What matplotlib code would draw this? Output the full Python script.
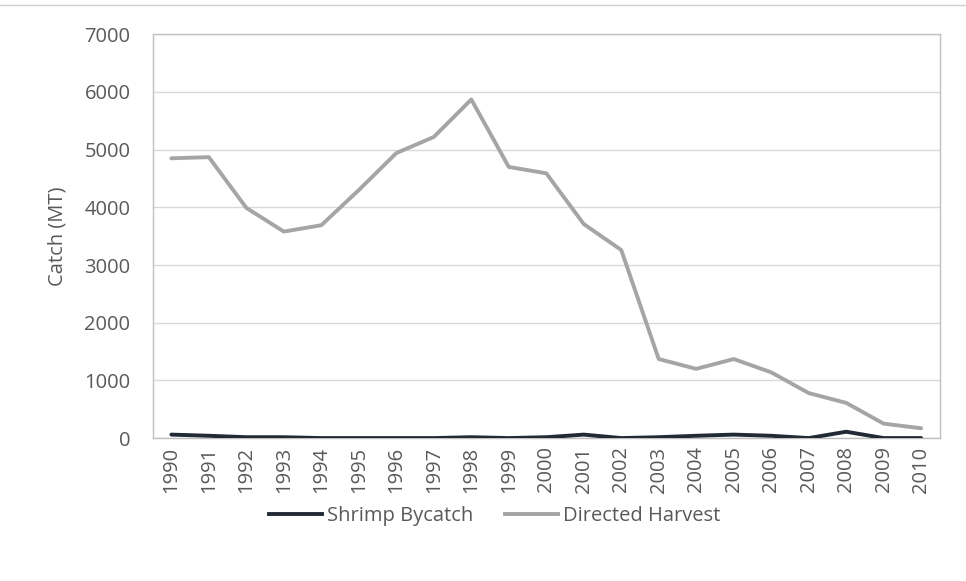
import numpy as np
import matplotlib
matplotlib.use("Agg")
import matplotlib.pyplot as plt
from matplotlib.lines import Line2D

plt.rcParams['font.family'] = ['Open Sans', 'DejaVu Sans']

#DATA
years = list(range(1990, 2011))
shrimp_bycatch = [60, 40, 15, 15, 0, 0, 0, 0, 15, 0, 15, 60, 0, 15, 40, 60, 40, 0, 110, 0, 0]
directed_harvest = [4850, 4870, 3990, 3580, 3690, 4300, 4940, 5220, 5870, 4700, 4590,
                    3710, 3260, 1370, 1200, 1370, 1140, 780, 610, 250, 170]

dark = '#222a35'
grey = '#a5a5a5'
txt = '#595959'

#PLOT
fig = plt.figure(figsize=(9.66, 5.81), dpi=100)
ax = fig.add_axes([0.158, 0.246, 0.815, 0.695])

ax.plot(years, shrimp_bycatch, color=dark, lw=2.8, solid_capstyle='round', zorder=3)
ax.plot(years, directed_harvest, color=grey, lw=2.8, solid_capstyle='round', zorder=2)

ax.set_xlim(1989.5, 2010.5)
ax.set_ylim(0, 7000)
ax.set_yticks(np.arange(0, 7001, 1000))
ax.set_xticks(years)
ax.set_xticklabels([str(y) for y in years], rotation=90)
ax.grid(axis='y', color='#d9d9d9', lw=1)
ax.set_axisbelow(True)
for s in ax.spines.values():
    s.set_color('#bfbfbf')
    s.set_linewidth(1)
ax.tick_params(length=0, colors=txt, labelsize=14.5)
ax.tick_params(axis='y', pad=16)
ax.tick_params(axis='x', pad=6)
ax.set_ylabel('Catch (MT)', color=txt, fontsize=14.5, labelpad=12)

ax.legend(handles=[Line2D([], [], color=dark, lw=2.8), Line2D([], [], color=grey, lw=2.8)],
          labels=['Shrimp Bycatch', 'Directed Harvest'],
          loc='center', bbox_to_anchor=(0.512, 0.112), bbox_transform=fig.transFigure,
          ncol=2, frameon=False, fontsize=14.5, labelcolor=txt,
          handlelength=2.6, handletextpad=0.25, columnspacing=1.6)

fig.add_artist(Line2D([0, 1], [0.991, 0.991], color='#d0d0d0', lw=1, transform=fig.transFigure))

fig.savefig('out.png', dpi=100)
